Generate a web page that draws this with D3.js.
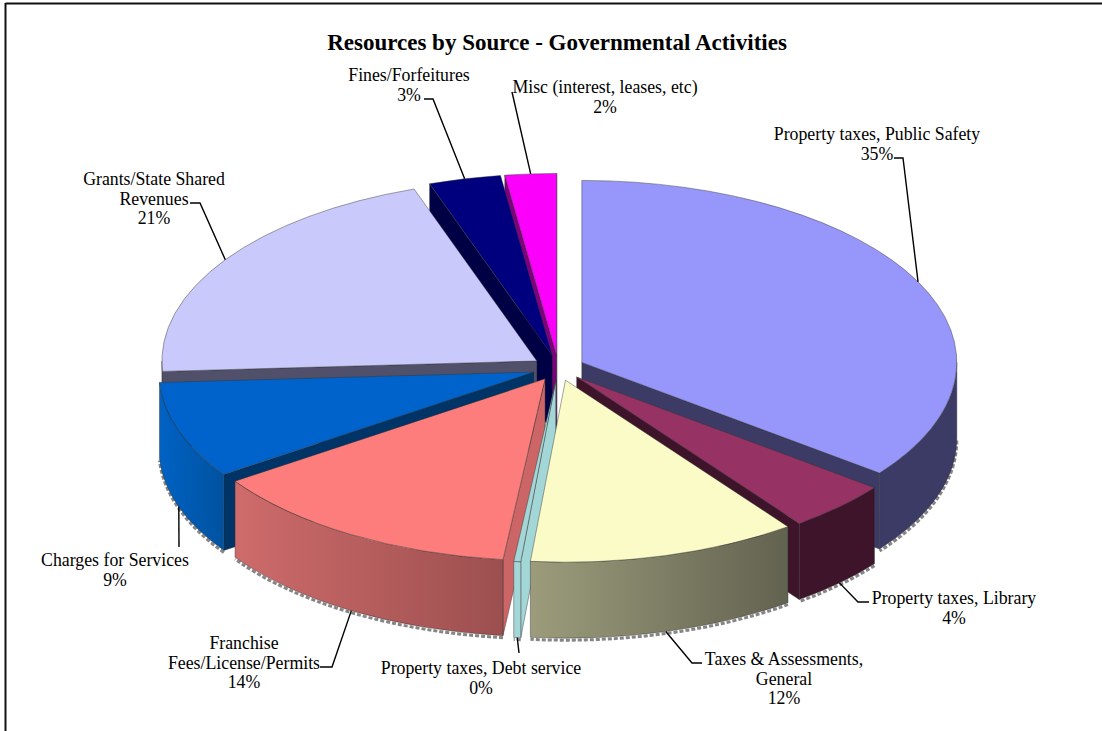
<!DOCTYPE html>
<html>
<head>
<meta charset="utf-8">
<title>Resources by Source - Governmental Activities</title>
<script src="https://cdn.jsdelivr.net/npm/d3@7"></script>
<style>
  html, body { margin: 0; padding: 0; background: #fff; }
  svg { display: block; }
  text { font-family: "Liberation Serif", "Times New Roman", serif; fill: #000; }
</style>
</head>
<body>
<svg id="chart" width="1102" height="731"></svg>
<script>
// Revenue shares, clockwise from twelve o'clock
const categories = [
  "Property taxes, Public Safety",
  "Property taxes, Library",
  "Taxes & Assessments, General",
  "Property taxes, Debt service",
  "Franchise Fees/License/Permits",
  "Charges for Services",
  "Grants/State Shared Revenues",
  "Fines/Forfeitures",
  "Misc (interest, leases, etc)"
];
const shares = [35.4, 4.49, 11.6, 0.3, 13.7, 8.6, 20.6, 3.1, 2.21];

// Wrapped label text for each category
const labelLines = [
  ["Property taxes, Public Safety"],
  ["Property taxes, Library"],
  ["Taxes & Assessments,", "General"],
  ["Property taxes, Debt service"],
  ["Franchise", "Fees/License/Permits"],
  ["Charges for Services"],
  ["Grants/State Shared", "Revenues"],
  ["Fines/Forfeitures"],
  ["Misc (interest, leases, etc)"]
];

// Face colours per slice
const topColors  = ["#9696fb", "#963264", "#fbfbc8", "#a3d6d6", "#fd7d7d", "#0063cb", "#c9c9fb", "#00007f", "#fb00fb"];
const cutColors  = ["#3b3b66", "#3d1429", "#666650", "#a3d6d6", "#cc6666", "#003366", "#50506b", "#000045", "#800080"];
const rimFrom    = ["#3b3b66", "#3d1429", "#9c9c7c", "#a3d6d6", "#cf6b6b", "#0062c4", "#50506b", "#000045", "#800080"];
const rimTo      = ["#3b3b66", "#3d1429", "#626250", "#a3d6d6", "#9c4f4f", "#00529f", "#50506b", "#000045", "#800080"];

// Back-to-front painting sequence (indices into categories)
const paintOrder = [8, 7, 0, 6, 5, 1, 4, 3, 2];

// Label placement: centre x, first baseline, and leader-line bend points
const labelLayout = [
  { x: 877, y: 140, leader: [[903, 158], [894, 158]], onBase: false },
  { x: 954, y: 604, leader: [[858, 602], [869, 602]], onBase: true },
  { x: 784, y: 665, leader: [[692, 663], [702, 663]], onBase: true },
  { x: 481, y: 674, leader: [[519, 653]], onBase: true },
  { x: 244, y: 649, leader: [[332, 667], [320, 667]], onBase: true },
  { x: 115, y: 566, leader: [[179, 547]], onBase: true },
  { x: 154, y: 185, leader: [[200, 203], [190, 203]], onBase: false },
  { x: 409, y: 81,  leader: [[433, 99], [424, 99]], onBase: false },
  { x: 605, y: 93,  leader: [[512, 92]], onBase: false }
];

// Pie geometry
const cx = 558.5, cy = 368;
const rx = 375, ry = 182;
const squash = ry / rx;
const depth = 76;
const explode = 26;
const lineHeight = 19.6;

const svg = d3.select("#chart");

// Frame: the chart area's top and left rules
svg.append("line").attr("x1", 5.5).attr("x2", 1102).attr("y1", 3.5).attr("y2", 3.5)
  .attr("stroke", "#111").attr("stroke-width", 2);
svg.append("line").attr("x1", 5.5).attr("x2", 5.5).attr("y1", 3).attr("y2", 731)
  .attr("stroke", "#111").attr("stroke-width", 2);

svg.append("text")
  .attr("x", 557).attr("y", 50)
  .attr("text-anchor", "middle")
  .attr("font-size", 23).attr("font-weight", "bold")
  .text("Resources by Source - Governmental Activities");

const pie = d3.pie().sort(null)(shares);
const total = d3.sum(shares);
const percent = v => d3.format(".0f")(v / total * 100) + "%";
const topArc = d3.arc().innerRadius(0).outerRadius(rx);

const defs = svg.append("defs");
shares.forEach((_, i) => {
  const g = defs.append("linearGradient").attr("id", "rim" + i);
  g.append("stop").attr("offset", 0).attr("stop-color", rimFrom[i]);
  g.append("stop").attr("offset", 1).attr("stop-color", rimTo[i]);
});

const FRONT_A = Math.PI / 2, FRONT_B = 3 * Math.PI / 2;
const dz = depth / squash;         // wall height in the unsquashed pie plane
const toCanvas = a => a - Math.PI / 2;

// Apex of an exploded slice on screen
function apex(d) {
  const mid = (d.startAngle + d.endAngle) / 2;
  return [cx + explode * Math.sin(mid), cy - explode * Math.cos(mid) * squash];
}

function cutWall(angle) {
  const p = d3.path();
  const x = rx * Math.sin(angle), y = -rx * Math.cos(angle);
  p.moveTo(0, 0);
  p.lineTo(x, y);
  p.lineTo(x, y + dz);
  p.lineTo(0, dz);
  p.closePath();
  return p.toString();
}

function rimWall(a0, a1) {
  const p = d3.path();
  p.arc(0, 0, rx, toCanvas(a0), toCanvas(a1));
  p.arc(0, dz, rx, toCanvas(a1), toCanvas(a0), true);
  p.closePath();
  return p.toString();
}

function rimEdge(a0, a1, offset) {
  const p = d3.path();
  p.arc(0, dz + offset, rx, toCanvas(a0), toCanvas(a1));
  return p.toString();
}

const pies = svg.append("g");

paintOrder.forEach(i => {
  const d = pie[i];
  const [ax, ay] = apex(d);
  const g = pies.append("g")
    .attr("transform", `translate(${ax},${ay}) scale(1,${squash})`);

  const edge = sel => sel
    .attr("stroke", "#333").attr("stroke-opacity", 0.55)
    .attr("stroke-width", 0.8).attr("vector-effect", "non-scaling-stroke");

  // Cut faces that turn toward the viewer
  if (Math.sin(d.startAngle) < 0) {
    g.append("path").attr("d", cutWall(d.startAngle)).attr("fill", cutColors[i]).call(edge);
  }
  if (Math.sin(d.endAngle) > 0) {
    g.append("path").attr("d", cutWall(d.endAngle)).attr("fill", cutColors[i]).call(edge);
  }

  // Outer wall along the front half of the rim, with its grey stippled foot
  const a0 = Math.max(d.startAngle, FRONT_A), a1 = Math.min(d.endAngle, FRONT_B);
  if (a1 > a0) {
    g.append("path").attr("d", rimEdge(a0, a1, 2 / squash))
      .attr("fill", "none").attr("stroke", "#858585").attr("stroke-width", 3)
      .attr("stroke-dasharray", "4 2").attr("vector-effect", "non-scaling-stroke");
    g.append("path").attr("d", rimWall(a0, a1)).attr("fill", `url(#rim${i})`).call(edge);
  }

  // Top face
  g.append("path").attr("d", topArc(d)).attr("fill", topColors[i]).call(edge);
});

// Leader lines and labels
const labels = svg.append("g");
pie.forEach((d, i) => {
  const layout = labelLayout[i];
  const mid = (d.startAngle + d.endAngle) / 2;
  const [ax, ay] = apex(d);
  const anchor = [
    ax + rx * Math.sin(mid),
    ay - ry * Math.cos(mid) + (layout.onBase ? depth : 0)
  ];
  labels.append("path")
    .attr("d", d3.line()([anchor, ...layout.leader]))
    .attr("fill", "none").attr("stroke", "#000").attr("stroke-width", 1.4);

  const lines = [...labelLines[i], percent(shares[i])];
  labels.append("text")
    .attr("text-anchor", "middle")
    .attr("font-size", 17.8)
    .selectAll("tspan").data(lines).join("tspan")
    .attr("x", layout.x)
    .attr("y", (_, k) => layout.y + k * lineHeight)
    .text(t => t);
});
</script>
</body>
</html>
